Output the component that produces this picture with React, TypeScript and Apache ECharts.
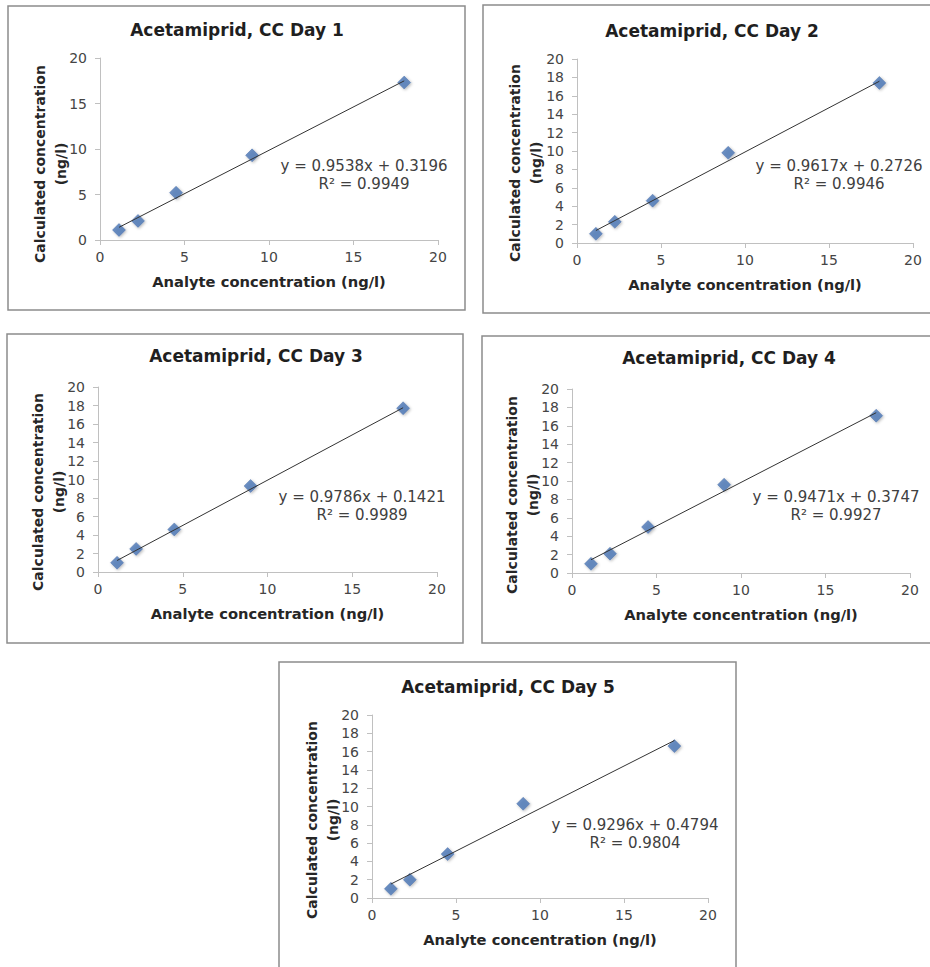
import React, { useEffect, useRef } from "react";
import * as echarts from "echarts";

const titles = [
  "Acetamiprid, CC Day 1",
  "Acetamiprid, CC Day 2",
  "Acetamiprid, CC Day 3",
  "Acetamiprid, CC Day 4",
  "Acetamiprid, CC Day 5",
];
const xValues = [1.125, 2.25, 4.5, 9, 18];
const day1 = [1.1, 2.1, 5.2, 9.3, 17.3];
const day2 = [1.0, 2.3, 4.6, 9.8, 17.4];
const day3 = [1.0, 2.5, 4.6, 9.3, 17.7];
const day4 = [1.0, 2.1, 5.0, 9.6, 17.1];
const day5 = [1.0, 2.0, 4.8, 10.3, 16.6];
const slopes = [0.9538, 0.9617, 0.9786, 0.9471, 0.9296];
const intercepts = [0.3196, 0.2726, 0.1421, 0.3747, 0.4794];
const rSquared = [0.9949, 0.9946, 0.9989, 0.9927, 0.9804];
const yIntervals = [5, 2, 2, 2, 2];
const xTitle = "Analyte concentration (ng/l)";
const yTitle = "Calculated concentration\n(ng/l)";

const FONT = "DejaVu Sans";

// layout (pixels)
const grids = [
  { left: 100, top: 58, width: 338, height: 182 },
  { left: 577, top: 59, width: 336, height: 184 },
  { left: 98, top: 387, width: 339, height: 185 },
  { left: 572, top: 389, width: 338, height: 184 },
  { left: 372, top: 715, width: 336, height: 183 },
];
const frames = [
  { x: 8, y: 6, width: 457, height: 304 },
  { x: 483, y: 5, width: 452, height: 308 },
  { x: 7, y: 334, width: 456, height: 309 },
  { x: 482, y: 336, width: 452, height: 307 },
  { x: 279, y: 662, width: 457, height: 312 },
];
const titlePos = [
  { x: 237, y: 30 },
  { x: 712, y: 31 },
  { x: 256, y: 356 },
  { x: 729, y: 358 },
  { x: 508, y: 687 },
];
const eqPos = [
  { x: 364, y: 175 },
  { x: 839, y: 175 },
  { x: 362, y: 506 },
  { x: 836, y: 506 },
  { x: 635, y: 834 },
];
const yTitlePos = [
  { x: 50, y: 164 },
  { x: 525, y: 163 },
  { x: 48, y: 492 },
  { x: 522, y: 495 },
  { x: 322, y: 820 },
];

export default function App() {
  const ref = useRef<HTMLDivElement>(null);
  useEffect(() => {
    if (!ref.current) return;
    const chart = echarts.init(ref.current, undefined, { renderer: "svg" });
    const days = [day1, day2, day3, day4, day5];

    const graphic: any[] = [];
    frames.forEach((f) => {
      graphic.push({
        type: "rect",
        shape: { x: f.x, y: f.y, width: f.width, height: f.height },
        style: { fill: "#ffffff", stroke: "#8c8c8c", lineWidth: 1.5 },
        z: -10,
      });
    });
    titlePos.forEach((p, i) => {
      graphic.push({
        type: "text",
        x: p.x,
        y: p.y,
        style: {
          text: titles[i],
          fontFamily: FONT,
          fontSize: 17,
          fontWeight: "bold",
          fill: "#1f1f1f",
          align: "center",
          verticalAlign: "middle",
        },
      });
    });
    yTitlePos.forEach((p) => {
      graphic.push({
        type: "text",
        x: p.x,
        y: p.y,
        rotation: Math.PI / 2,
        style: {
          text: yTitle,
          fontFamily: FONT,
          fontSize: 14,
          fontWeight: "bold",
          lineHeight: 21,
          fill: "#262626",
          align: "center",
          verticalAlign: "middle",
        },
      });
    });
    eqPos.forEach((p, i) => {
      graphic.push({
        type: "text",
        x: p.x,
        y: p.y,
        style: {
          text:
            "y = " +
            slopes[i].toFixed(4) +
            "x + " +
            intercepts[i].toFixed(4) +
            "\nR² = " +
            rSquared[i].toFixed(4),
          fontFamily: FONT,
          fontSize: 15,
          lineHeight: 18,
          fill: "#404040",
          align: "center",
          verticalAlign: "middle",
        },
      });
    });

    const xAxis = grids.map((_, i) => ({
      type: "value",
      gridIndex: i,
      min: 0,
      max: 20,
      interval: 5,
      name: xTitle,
      nameLocation: "middle",
      nameGap: 34,
      nameTextStyle: {
        fontFamily: FONT,
        fontSize: 14.7,
        fontWeight: "bold",
        color: "#262626",
        verticalAlign: "top",
      },
      axisLine: { show: true, lineStyle: { color: "#c0c0c0", width: 1 } },
      axisTick: { show: true, length: 5, lineStyle: { color: "#c0c0c0" } },
      axisLabel: {
        fontFamily: FONT,
        fontSize: 14,
        color: "#454545",
        margin: 10,
      },
      splitLine: { show: false },
    }));
    const yAxis = grids.map((_, i) => ({
      type: "value",
      gridIndex: i,
      min: 0,
      max: 20,
      interval: yIntervals[i],
      axisLine: { show: true, lineStyle: { color: "#c0c0c0", width: 1 } },
      axisTick: { show: true, length: 5, lineStyle: { color: "#c0c0c0" } },
      axisLabel: {
        fontFamily: FONT,
        fontSize: 14,
        color: "#454545",
        margin: 13,
      },
      splitLine: { show: false },
    }));

    const series: any[] = [];
    days.forEach((vals, i) => {
      series.push({
        type: "scatter",
        xAxisIndex: i,
        yAxisIndex: i,
        symbol: "diamond",
        symbolSize: [13, 13],
        itemStyle: {
          color: "#4a75b5",
          borderColor: "#3d65a3",
          borderWidth: 0.5,
          shadowBlur: 3,
          shadowColor: "rgba(0,0,0,0.35)",
          shadowOffsetX: 1,
          shadowOffsetY: 1,
        },
        data: xValues.map((x, k) => [x, vals[k]]),
        z: 2,
      });
      const x0 = xValues[0];
      const x1 = xValues[xValues.length - 1];
      series.push({
        type: "line",
        xAxisIndex: i,
        yAxisIndex: i,
        symbol: "none",
        lineStyle: { color: "#333333", width: 1 },
        data: [
          [x0, slopes[i] * x0 + intercepts[i]],
          [x1, slopes[i] * x1 + intercepts[i]],
        ],
        z: 3,
      });
    });

    chart.setOption({
      animation: false,
      backgroundColor: "#ffffff",
      grid: grids.map((g) => ({ ...g, containLabel: false })),
      xAxis,
      yAxis,
      series,
      graphic,
    });
    return () => chart.dispose();
  }, []);
  return (
    <div
      ref={ref}
      style={{ position: "absolute", left: 0, top: 0, width: 930, height: 967 }}
    />
  );
}
